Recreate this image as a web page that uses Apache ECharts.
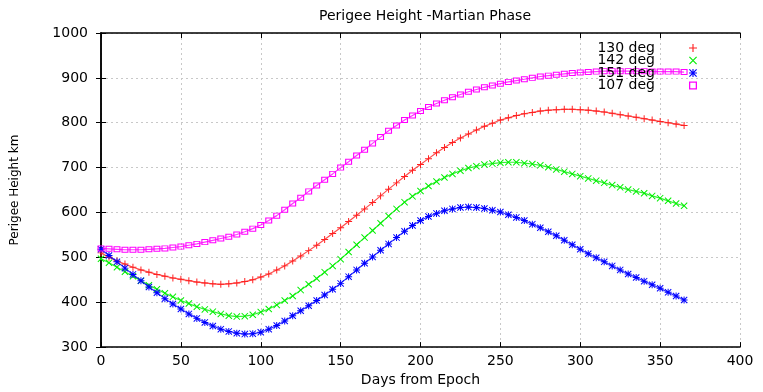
<!DOCTYPE html>
<html>
<head>
<meta charset="utf-8">
<script src="https://cdn.jsdelivr.net/npm/echarts@6/dist/echarts.min.js"></script>
<style>
  html, body { margin: 0; padding: 0; background: #fff; }
  #chart { width: 763px; height: 392px; }
</style>
</head>
<body>
<div id="chart"></div>
<script>
const days = [0, 5, 10, 15, 20, 25, 30, 35, 40, 45, 50, 55, 60, 65, 70, 75, 80, 85, 90, 95,
  100, 105, 110, 115, 120, 125, 130, 135, 140, 145, 150, 155, 160, 165, 170, 175, 180, 185, 190, 195,
  200, 205, 210, 215, 220, 225, 230, 235, 240, 245, 250, 255, 260, 265, 270, 275, 280, 285, 290, 295,
  300, 305, 310, 315, 320, 325, 330, 335, 340, 345, 350, 355, 360, 365];

const deg130 = [510, 500, 492, 485, 478, 472, 467, 462, 458, 454, 451, 448, 445, 443, 441, 440, 441, 443, 446, 450,
  456, 463, 472, 481, 492, 503, 515, 527, 540, 553, 566, 580, 594, 608, 622, 637, 652, 666, 680, 694,
  707, 720, 733, 745, 756, 766, 775, 784, 792, 799, 806, 811, 816, 820, 823, 826, 828, 829, 830, 830,
  829, 828, 826, 824, 821, 818, 815, 812, 809, 806, 803, 800, 797, 794];

const deg142 = [497, 488, 478, 468, 458, 448, 438, 429, 420, 412, 404, 397, 390, 384, 379, 374, 370, 368, 369, 372,
  378, 385, 394, 404, 414, 427, 440, 453, 467, 481, 496, 512, 528, 544, 560, 576, 592, 608, 623, 636,
  648, 659, 669, 678, 686, 693, 699, 703, 707, 709, 711, 712, 712, 710, 708, 705, 701, 696, 691, 686,
  681, 676, 671, 666, 661, 656, 651, 647, 643, 637, 632, 626, 620, 615];

const deg151 = [518, 504, 490, 476, 462, 448, 434, 421, 408, 396, 385, 374, 364, 355, 347, 340, 335, 331, 329, 330,
  333, 340, 348, 358, 370, 381, 392, 404, 416, 429, 442, 457, 472, 487, 501, 516, 530, 544, 558, 571,
  582, 591, 598, 604, 608, 611, 612, 611, 609, 605, 601, 595, 589, 582, 574, 566, 557, 548, 538, 528,
  518, 508, 499, 490, 481, 472, 463, 455, 447, 439, 431, 422, 414, 405];

const deg107 = [520, 519, 518, 517, 517, 517, 518, 519, 520, 522, 524, 527, 530, 534, 538, 542, 546, 551, 557, 564,
  572, 582, 593, 606, 620, 633, 647, 660, 673, 686, 700, 713, 727, 740, 754, 768, 782, 794, 806, 816,
  826, 835, 843, 850, 857, 863, 869, 874, 879, 883, 887, 891, 894, 897, 900, 903, 905, 907, 909, 911,
  912, 913, 914, 915, 915, 915, 915, 915, 915, 914, 914, 914, 914, 913];

const xTicks = { min: 0, max: 400, interval: 50 };
const yTicks = { min: 300, max: 1000, interval: 100 };

const plusPath = 'path://M4.3,0h1.4v10h-1.4z M0,4.3h10v1.4h-10z';
const crossPath = 'path://M0,1L1,0L10,9L9,10Z M9,0L10,1L1,10L0,9Z';
const starPath = 'path://M4.3,0h1.4v10h-1.4z M0,4.3h10v1.4h-10z M0,1L1,0L10,9L9,10Z M9,0L10,1L1,10L0,9Z';
const boxPath = 'path://M0,0h10v10h-10z M1.6,1.6v6.8h6.8v-6.8z';

const font = 'DejaVu Sans';

function pairs(vals) {
  return days.map((d, i) => [d, vals[i]]);
}

function makeSeries(name, vals, symbol, size, color) {
  return {
    name: name,
    type: 'line',
    symbol: symbol,
    symbolSize: size,
    showAllSymbol: true,
    lineStyle: { color: color, width: 1.2, opacity: 0.8 },
    itemStyle: { color: color },
    data: pairs(vals),
  };
}

const chart = echarts.init(document.getElementById('chart'));

const axisBase = {
  type: 'value',
  axisLine: { show: true, lineStyle: { color: '#000', width: 1.5 } },
  axisTick: { show: true, inside: true, length: 5, lineStyle: { color: '#000', width: 1 } },
};

chart.setOption({
  animation: false,
  backgroundColor: '#fff',
  title: {
    text: 'Perigee Height -Martian Phase',
    left: 420,
    textAlign: 'center',
    top: 4,
    textStyle: { fontFamily: font, fontSize: 14, fontWeight: 'normal', color: '#000' },
  },
  legend: {
    orient: 'vertical',
    right: 61,
    top: 36,
    align: 'right',
    itemWidth: 8,
    itemHeight: 8,
    itemGap: -1.5,
    textStyle: { fontFamily: font, fontSize: 14, lineHeight: 12, color: '#000', padding: [0, 29, 0, 0] },
    data: [
      { name: '130 deg', icon: plusPath },
      { name: '142 deg', icon: crossPath },
      { name: '151 deg', icon: starPath },
      { name: '107 deg', icon: boxPath },
    ],
  },
  grid: { left: 101, right: 23, top: 33, bottom: 41 },
  xAxis: [
    {
      ...axisBase,
      ...xTicks,
      name: 'Days from Epoch',
      nameLocation: 'middle',
      nameGap: 24,
      nameTextStyle: { fontFamily: font, fontSize: 14, color: '#000' },
      axisLabel: { fontFamily: font, fontSize: 14, color: '#000', margin: 7 },
      splitLine: { show: true, lineStyle: { color: '#c8c8c8', type: [2, 3], width: 1 } },
    },
    {
      ...axisBase,
      ...xTicks,
      position: 'top',
      axisLabel: { show: false },
      splitLine: { show: false },
    },
  ],
  yAxis: [
    {
      ...axisBase,
      ...yTicks,
      name: 'Perigee Height km',
      nameLocation: 'middle',
      nameGap: 80,
      nameTextStyle: { fontFamily: font, fontSize: 12, color: '#000' },
      axisLabel: { fontFamily: font, fontSize: 14, color: '#000', margin: 13, formatter: (v) => String(v) },
      splitLine: { show: true, lineStyle: { color: '#c8c8c8', type: [2, 3], width: 1 } },
    },
    {
      ...axisBase,
      ...yTicks,
      position: 'right',
      axisLabel: { show: false },
      splitLine: { show: false },
    },
  ],
  series: [
    makeSeries('130 deg', deg130, plusPath, 7, '#ff2020'),
    makeSeries('142 deg', deg142, crossPath, 7, '#00ee00'),
    makeSeries('151 deg', deg151, starPath, 7, '#0000ff'),
    makeSeries('107 deg', deg107, boxPath, [7, 6], '#ff00ff'),
  ],
});

window.addEventListener('resize', () => {
  chart.resize();
});
</script>
</body>
</html>
